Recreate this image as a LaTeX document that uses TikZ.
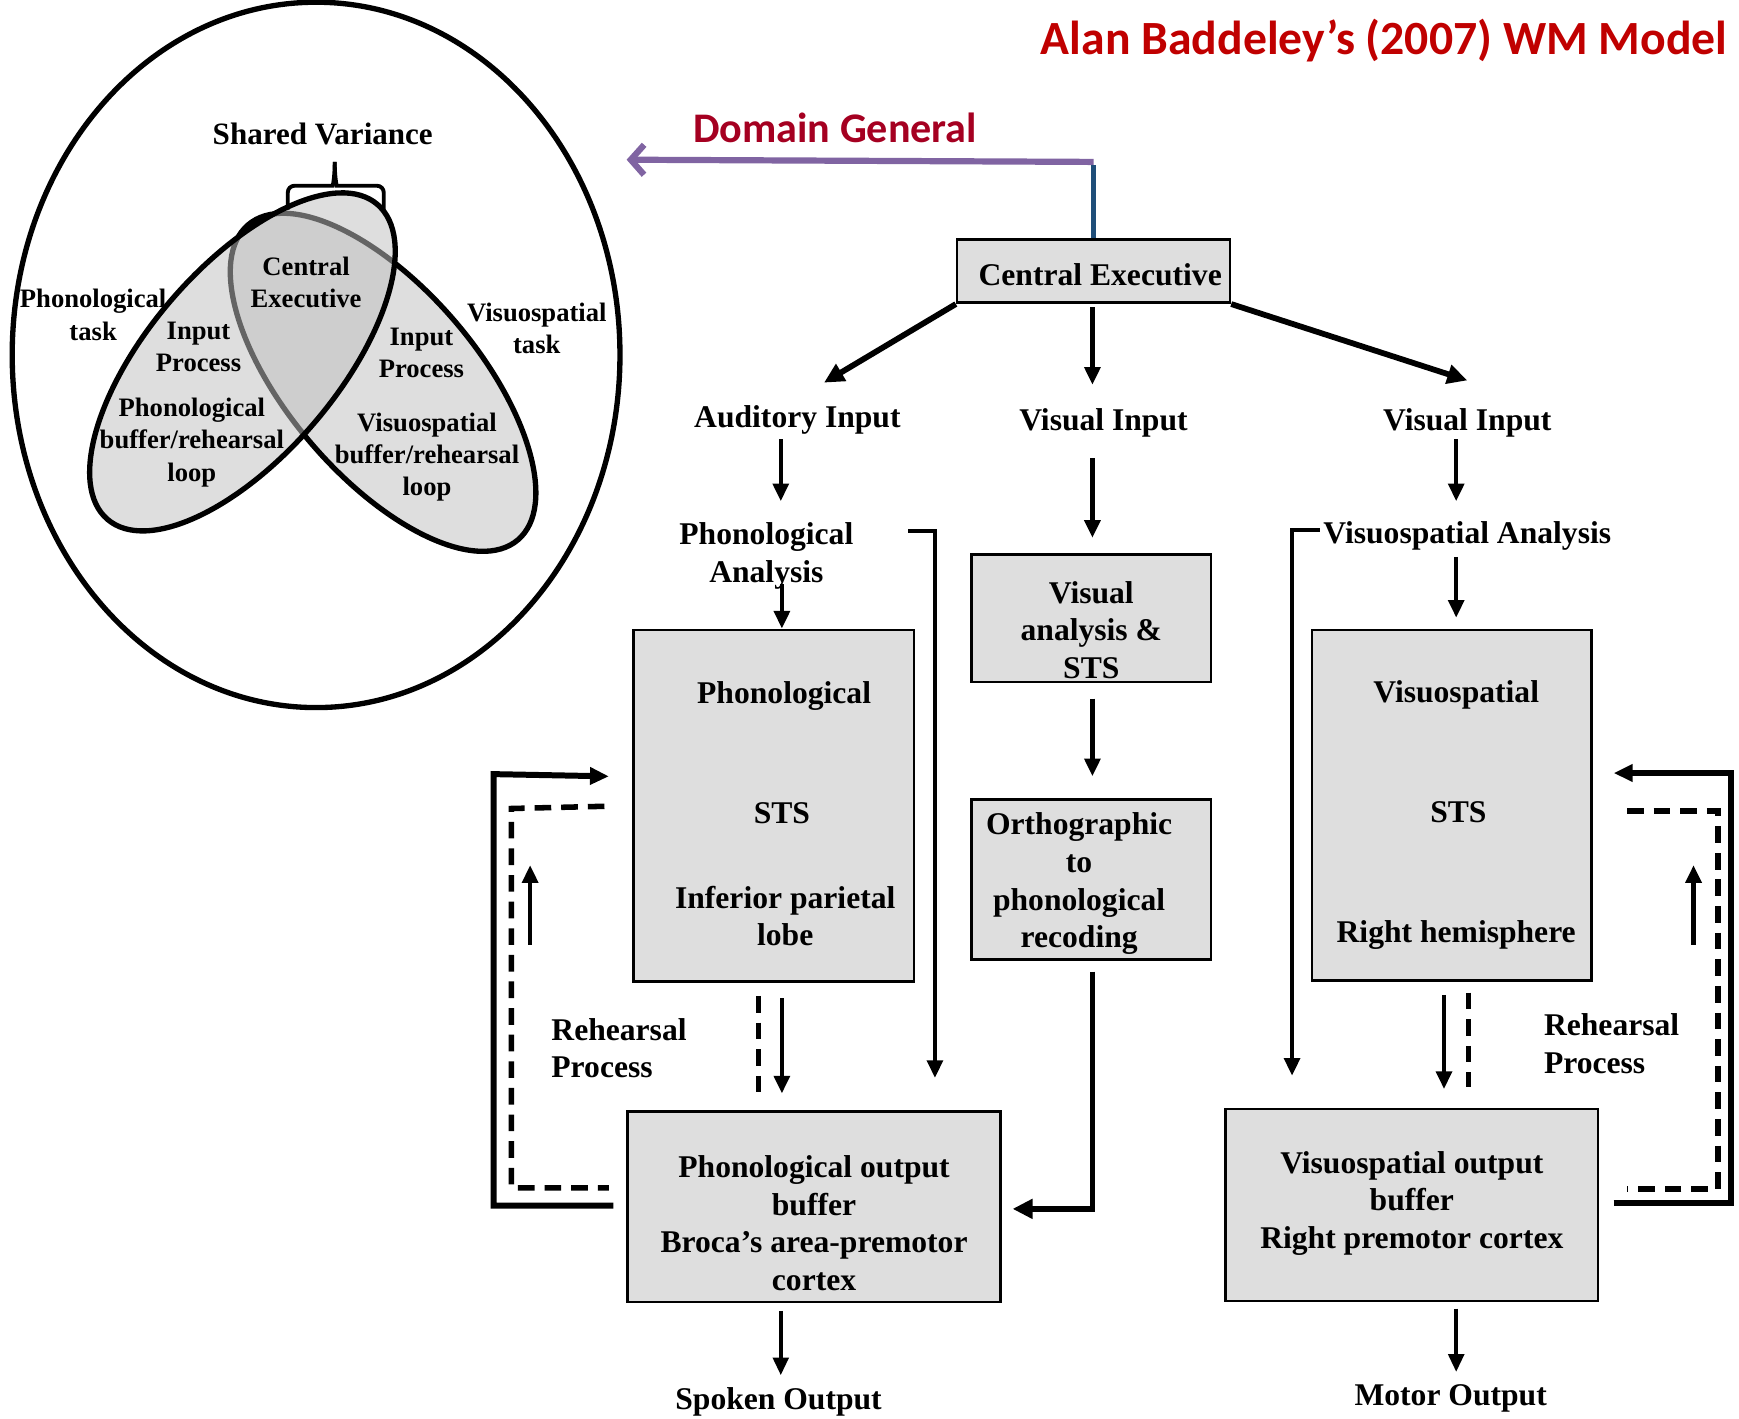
\documentclass[tikz,border=0pt]{standalone}
\usepackage{fontspec}
\setmainfont{Liberation Serif}
\newfontfamily\calibri{Carlito}
\usetikzlibrary{arrows.meta,calc}

\definecolor{boxgray}{HTML}{DEDEDE}
\definecolor{ovgray}{HTML}{C0C0C0}
\definecolor{titlered}{HTML}{C00000}
\definecolor{dgred}{HTML}{A50021}
\definecolor{dgpurple}{HTML}{8064A2}
\definecolor{ceblue}{HTML}{1F4E79}

\begin{document}
\begin{tikzpicture}[x=1pt,y=-1pt,
  lbl/.style={font=\fontsize{28.5}{34}\selectfont\bfseries, inner sep=0pt, align=center},
  vlbl/.style={font=\fontsize{24}{29}\selectfont\bfseries, inner sep=0pt, align=center},
  blk/.style={draw=black, line width=2.3pt, fill=boxgray, inner sep=0pt},
  arr/.style={line width=4pt, -{Triangle[length=16pt,width=14pt]}},
  thk/.style={line width=5.2pt, -{Triangle[length=18pt,width=17pt]}},
  loopline/.style={line width=5.4pt},
  dashline/.style={line width=5pt, dash pattern=on 15pt off 9pt},
  ellline/.style={line width=4.8pt},
]
\useasboundingbox (0,0) rectangle (1568,1279);

% ---------- Venn panel ----------
\draw[ellline] (285,320) ellipse [x radius=274, y radius=318];
\draw[ellline, fill=boxgray, rotate around={-49.4:(345.4,344.7)}]
  (345.4,344.7) ellipse [x radius=187, y radius=85];
\draw[ellline, fill=ovgray, fill opacity=0.52, rotate around={49.4:(218.6,326.3)}]
  (218.6,326.3) ellipse [x radius=187, y radius=85];

% brace over the overlap
\draw[line width=3.5pt, rounded corners=6pt]
  (259.5,189) -- (259.5,167.5) -- (294,167.5)
  .. controls (300,167.5) and (301.8,160) .. (301.8,146);
\draw[line width=3.5pt, rounded corners=6pt]
  (301.8,146) .. controls (301.8,160) and (303.6,167.5) .. (309.6,167.5)
  -- (346,167.5) -- (346,189);

\node[font=\fontsize{28}{33}\selectfont\bfseries, inner sep=0pt] (sv) at (291,121) {Shared Variance};
\node[vlbl] (ptask) at (84,284) {Phonological\\task};
\node[vlbl] (lin) at (179,313) {Input\\Process};
\node[vlbl] (lbuf) at (173,399) {Phonological\\buffer/rehearsal\\loop};
\node[vlbl] (vce) at (276,255) {Central\\Executive};
\node[vlbl] (rin) at (380,318) {Input\\Process};
\node[vlbl] (vtask) at (484,296) {Visuospatial\\task};
\node[vlbl] (rbuf) at (385,412) {Visuospatial\\buffer/rehearsal\\loop};

% ---------- headings ----------
\node[font=\calibri\fontsize{43}{50}\selectfont\bfseries, text=titlered, inner sep=0pt]
  (title) at (1248,37) {Alan Baddeley’s (2007) WM Model};
\node[font=\calibri\fontsize{38}{44}\selectfont\bfseries, text=dgred, inner sep=0pt]
  (dg) at (753,115) {Domain General};

% ---------- central executive ----------
\node[blk, minimum width=246pt, minimum height=57pt] (ce) at (986,244.5) {};
\node[lbl] (cetx) at (992,248) {Central Executive};

\coordinate (bend) at (986,146);
\coordinate (dgtip) at (565,144);
\draw[dgpurple, line width=5.6pt, -{Straight Barb[length=12pt,width=27pt]}] (bend) -- (dgtip);
\draw[ceblue, line width=5.2pt] (ce.north) -- ([yshift=-2.8pt]bend);

% ---------- labels ----------
\node[lbl] (aud) at (719,379) {Auditory Input};
\node[lbl] (vin) at (995,381) {Visual Input};
\node[lbl] (vinr) at (1323,381) {Visual Input};
\node[lbl] (phan) at (691,501) {Phonological\\Analysis};
\node[lbl] (vsan) at (1323,483) {Visuospatial Analysis};

% ---------- boxes ----------
\node[blk, minimum width=253pt, minimum height=317pt] (phbox) at (697.5,726.5) {};
\node[lbl] (ph1) at (707,628) {Phonological};
\node[lbl] (ph2) at (705,733) {STS};
\node[lbl] (ph3) at (708,826) {Inferior parietal\\lobe};

\node[blk, minimum width=216pt, minimum height=115pt] (vabox) at (984,557.5) {};
\node[lbl] (vatx) at (984,568) {Visual\\analysis \&\\STS};

\node[blk, minimum width=216pt, minimum height=144pt] (orbox) at (984,793) {};
\node[lbl] (ortx) at (973,797) {Orthographic\\to\\phonological\\recoding};

\node[blk, minimum width=252pt, minimum height=316pt] (vsbox) at (1309,726) {};
\node[lbl] (vs1) at (1313,627) {Visuospatial};
\node[lbl] (vs2) at (1315,732) {STS};
\node[lbl] (vs3) at (1313,843) {Right hemisphere};

\node[blk, minimum width=336pt, minimum height=172pt] (pobox) at (734,1088) {};
\node[lbl] (potx) at (734,1103) {Phonological output\\buffer\\Broca’s area-premotor\\cortex};

\node[blk, minimum width=336pt, minimum height=173pt] (vobox) at (1273,1086.5) {};
\node[lbl] (votx) at (1273,1085) {Visuospatial output\\buffer\\Right premotor cortex};

\node[lbl] (spk) at (702,1264) {Spoken Output};
\node[lbl] (mot) at (1308,1261) {Motor Output};
\node[lbl, align=left, anchor=west] (rehl) at (497,945) {Rehearsal\\Process};
\node[lbl, align=left, anchor=west] (rehr) at (1392,941) {Rehearsal\\Process};

% ---------- connector end points ----------
\coordinate (ceL) at (743,345);
\coordinate (ceMs) at (985,277);
\coordinate (ceMe) at (985,347);
\coordinate (ceR) at (1323,343);
\coordinate (a1s) at (704,396);
\coordinate (a1e) at (704,452);
\coordinate (a2s) at (705,527);
\coordinate (brs) at (819,479);
\coordinate (bre) at (843,972);
\coordinate (m1s) at (985,413);
\coordinate (m1e) at (985,485);
\coordinate (m2s) at (985,630);
\coordinate (m2e) at (985,700);
\coordinate (m3s) at (985,876);
\coordinate (m3e) at (913,1090);
\coordinate (r1s) at (1313,396);
\coordinate (r1e) at (1313,452);
\coordinate (r2s) at (1190,478);
\coordinate (r2e) at (1165,970);
\coordinate (r3s) at (1313,502);
\coordinate (r3e) at (1313,557);
\coordinate (pd1) at (684,898);
\coordinate (pd2) at (684,985);
\coordinate (ps1) at (705,900);
\coordinate (ps2) at (705,986);
\coordinate (vsa1) at (1302,897);
\coordinate (vsa2) at (1302,982);
\coordinate (vsd1) at (1324,895);
\coordinate (vsd2) at (1324,980);
\coordinate (o1s) at (704,1182);
\coordinate (o1e) at (704,1240);
\coordinate (o2s) at (1313,1180);
\coordinate (o2e) at (1313,1237);
\coordinate (ll1) at (553,1087);
\coordinate (llc) at (445,698);
\coordinate (ll2) at (549,700);
\coordinate (ld1) at (545,727);
\coordinate (ldc) at (461,729);
\coordinate (ld2) at (549,1071);
\coordinate (lu1) at (478,852);
\coordinate (lu2) at (478,780);
\coordinate (rl1) at (1455,1085);
\coordinate (rlc) at (1561,697);
\coordinate (rl2) at (1455,697);
\coordinate (rd1) at (1467,731);
\coordinate (rdc) at (1549,731);
\coordinate (rd2) at (1467,1072);
\coordinate (ru1) at (1527,852);
\coordinate (ru2) at (1527,780);

% ---------- connectors ----------
\draw[thk] (ce.south west) -- (ceL);
\draw[arr] (ceMs) -- (ceMe);
\draw[thk] (ce.south east) -- (ceR);

\draw[arr] (a1s) -- (a1e);
\draw[arr] (a2s) -- (a2s |- phbox.north);
\draw[arr] (brs) -- (brs -| bre) -- (bre);

\draw[arr] (m1s) -- (m1e);
\draw[arr] (m2s) -- (m2e);
\draw[thk] (m3s) |- (m3e);

\draw[arr] (r1s) -- (r1e);
\draw[arr] (r2s) -- (r2s -| r2e) -- (r2e);
\draw[arr] (r3s) -- (r3e);

\draw[dashline] (pd1) -- (pd2);
\draw[arr] (ps1) -- (ps2);
\draw[arr] (vsa1) -- (vsa2);
\draw[dashline] (vsd1) -- (vsd2);

\draw[arr, line width=3.4pt] (o1s) -- (o1e);
\draw[arr, line width=3.4pt] (o2s) -- (o2e);

% rehearsal loops
\draw[loopline, -{Triangle[length=17pt,width=15pt]}] (ll1) -| (llc) -- (ll2);
\draw[dashline] (ld1) -- (ldc) |- (ld2);
\draw[arr] (lu1) -- (lu2);

\draw[loopline, -{Triangle[length=17pt,width=15pt]}] (rl1) -| (rlc) -- (rl2);
\draw[dashline] (rd1) -- (rdc) |- (rd2);
\draw[arr] (ru1) -- (ru2);

\end{tikzpicture}
\end{document}
